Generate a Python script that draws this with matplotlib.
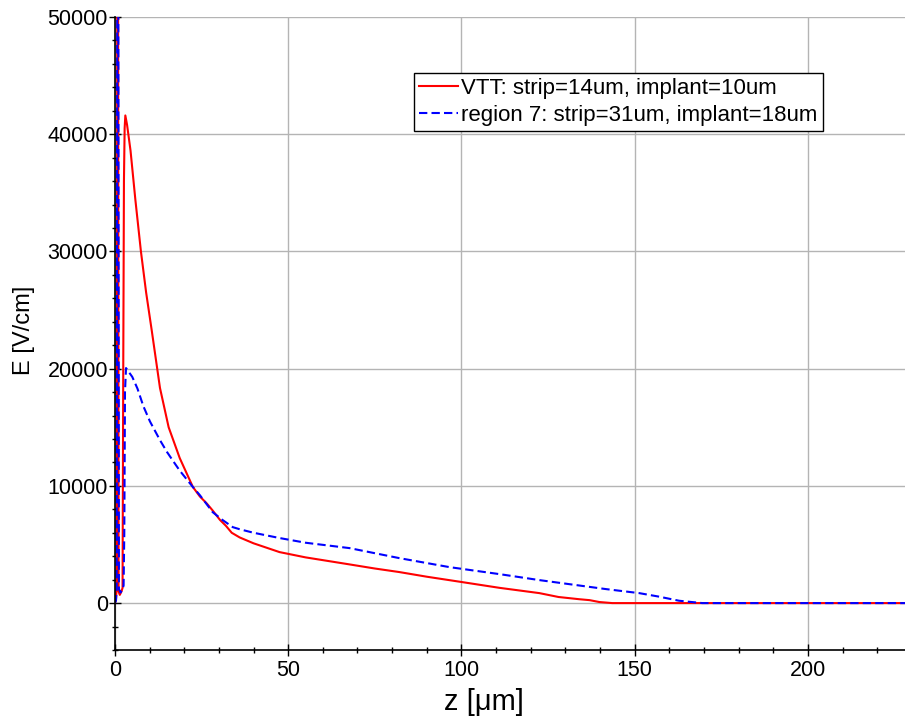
import matplotlib
matplotlib.use("Agg")
import matplotlib.pyplot as plt
from matplotlib.ticker import MultipleLocator

plt.rcParams['font.family'] = ['Liberation Sans', 'DejaVu Sans']

# Field profile along z, VTT sensor
z_vtt = [0, 0.3, 0.55, 0.7, 0.9, 1.05, 1.4, 1.9, 2.2, 2.4, 2.6, 2.8, 3.0, 3.5,
         4.5, 5.9, 7.5, 9.0, 10.6, 13.0, 15.5, 18.7, 22.5, 24.5, 26.5, 28.2,
         30.3, 32.0, 33.7, 36.0, 40.0, 47.5, 55.0, 67.7, 75.0, 82.0, 90.0,
         100.0, 111.0, 122.5, 128.0, 134.0, 137.0, 139.8, 143.5, 160.0, 200.0,
         228.0]
e_vtt = [0, 300, 1500, 60000, 60000, 1000, 700, 1000, 1300, 20000, 36000,
         40500, 41600, 40800, 38600, 34400, 30000, 26500, 23300, 18350, 15000,
         12370, 9900, 9100, 8500, 7900, 7100, 6600, 6000, 5600, 5100, 4350,
         3900, 3300, 2950, 2650, 2250, 1800, 1300, 850, 520, 330, 250, 90, 0,
         0, 0, 0]

# Field profile along z, region 7
z_r7 = [0, 0.3, 0.5, 0.7, 0.95, 1.15, 1.6, 2.1, 2.5, 2.7, 2.9, 3.2, 5.0, 6.5,
        8.2, 10.1, 13.0, 15.0, 17.3, 18.7, 22.5, 24.5, 28.2, 31.0, 34.0, 36.0,
        40.0, 47.5, 55.0, 67.7, 82.0, 96.5, 111.0, 122.5, 134.0, 141.8, 151.3,
        157.0, 162.8, 169.5, 180.0, 228.0]
e_r7 = [0, 200, 1200, 60000, 60000, 1200, 900, 1100, 1500, 6000, 18000, 20050,
        19300, 18300, 16800, 15500, 13900, 12900, 11900, 11300, 9900, 9210,
        7760, 7100, 6480, 6300, 6000, 5550, 5150, 4690, 3840, 3070, 2470, 1960,
        1500, 1190, 850, 550, 200, 0, 0, 0]

fig = plt.figure(figsize=(9.05, 7.23), dpi=100)
ax = fig.add_axes([0.127, 0.101, 0.873, 0.8755])

ax.plot(z_vtt, e_vtt, color='red', lw=1.5, label='VTT: strip=14um, implant=10um')
ax.plot(z_r7, e_r7, color='blue', lw=1.5, linestyle=(0, (4, 2)),
        label='region 7: strip=31um, implant=18um')

ax.set_xlim(0, 228)
ax.set_ylim(-4000, 50000)
ax.xaxis.set_major_locator(MultipleLocator(50))
ax.xaxis.set_minor_locator(MultipleLocator(10))
ax.yaxis.set_major_locator(MultipleLocator(10000))
ax.yaxis.set_minor_locator(MultipleLocator(2000))
ax.grid(True, which='major', color='#b4b4b4', lw=1)
ax.set_axisbelow(True)

for side in ('top', 'right'):
    ax.spines[side].set_visible(False)
ax.spines['left'].set_linewidth(1.2)
ax.spines['bottom'].set_linewidth(1.2)
ax.tick_params(which='both', direction='inout', labelsize=15.5, width=1)
ax.tick_params(which='major', length=8)
ax.tick_params(which='minor', length=5)
ax.tick_params(axis='y', which='major', pad=1)

ax.set_xlabel('z [μm]', fontsize=21)
ax.set_ylabel('E [V/cm]', fontsize=17)
ax.xaxis.set_label_coords(0.467, -0.06)
ax.yaxis.set_label_coords(-0.101, 0.505)

leg = ax.legend(loc='upper left', bbox_to_anchor=(0.378, 0.912), fontsize=16,
                frameon=True, fancybox=False, framealpha=1, edgecolor='black',
                handlelength=1.75, handletextpad=0.15, borderpad=0.25,
                labelspacing=0.25, borderaxespad=0)
leg.get_frame().set_linewidth(1)

fig.savefig('out.png', dpi=100)
